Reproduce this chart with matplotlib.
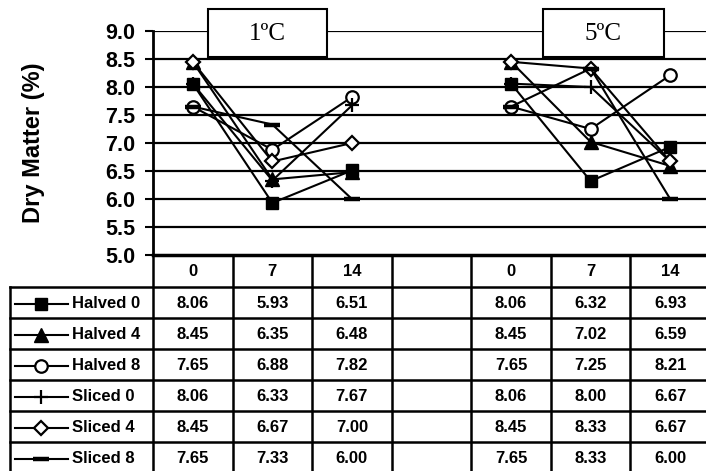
import numpy as np
import matplotlib
matplotlib.use("Agg")
import matplotlib.pyplot as plt
from matplotlib.lines import Line2D
from matplotlib.patches import Rectangle

# ---- data ----
categories = ["0", "7", "14", "", "0", "7", "14"]
temps = ["1ºC", "5ºC"]
series_names = ["Halved 0", "Halved 4", "Halved 8", "Sliced 0", "Sliced 4", "Sliced 8"]
halved0 = [8.06, 5.93, 6.51, None, 8.06, 6.32, 6.93]
halved4 = [8.45, 6.35, 6.48, None, 8.45, 7.02, 6.59]
halved8 = [7.65, 6.88, 7.82, None, 7.65, 7.25, 8.21]
sliced0 = [8.06, 6.33, 7.67, None, 8.06, 8.00, 6.67]
sliced4 = [8.45, 6.67, 7.00, None, 8.45, 8.33, 6.67]
sliced8 = [7.65, 7.33, 6.00, None, 7.65, 8.33, 6.00]
series_values = [halved0, halved4, halved8, sliced0, sliced4, sliced8]
y_ticks = [5.0, 5.5, 6.0, 6.5, 7.0, 7.5, 8.0, 8.5, 9.0]

# ---- styles ----
styles = [
    dict(marker="s", ms=9, mfc="black", mec="black", mew=1.0),
    dict(marker="^", ms=10, mfc="black", mec="black", mew=1.0),
    dict(marker="o", ms=9, mfc="white", mec="black", mew=1.6),
    dict(marker="+", ms=10, mfc="black", mec="black", mew=1.6),
    dict(marker="D", ms=7, mfc="white", mec="black", mew=1.6),
    dict(marker="_", ms=11, mfc="black", mec="black", mew=3.2),
]

W, H = 706, 471
fig = plt.figure(figsize=(W / 100, H / 100), dpi=100)
FONT = "Liberation Sans"

# geometry (pixels)
x_left, x_right = 153, 710
y_top, y_bot = 31, 255
ncol = len(categories)
cw = (x_right - x_left) / ncol
row_h = 31.0
head_bot = 287
leg_left = 10

ax = fig.add_axes([x_left / W, 1 - y_bot / H, (x_right - x_left) / W, (y_bot - y_top) / H])
ax.set_xlim(-0.5, ncol - 0.5)
ax.set_ylim(5.0, 9.0)
ax.set_yticks(y_ticks)
ax.set_yticklabels([f"{v:.1f}" for v in y_ticks], fontfamily=FONT, fontweight="bold", fontsize=15.5)
ax.set_xticks([])
ax.tick_params(axis="y", length=5.5, width=1.5, pad=7, direction="out")
for s in ["top", "right"]:
    ax.spines[s].set_visible(False)
ax.spines["left"].set_linewidth(2)
ax.spines["bottom"].set_linewidth(2.5)
for v in y_ticks[1:]:
    ax.axhline(v, color="black", lw=1.6, zorder=1)
ax.set_ylabel("Dry Matter (%)", fontfamily=FONT, fontweight="bold", fontsize=17, va="center")
ax.yaxis.set_label_coords((33 - x_left) / (x_right - x_left), 0.5)

xs = np.arange(ncol)
for vals, st in zip(series_values, styles):
    y = np.array([np.nan if v is None else v for v in vals], dtype=float)
    ax.plot(xs, y, color="black", lw=1.5, zorder=3, clip_on=False, **st)

# ---- overlay axes in pixel coords for table and boxes ----
ov = fig.add_axes([0, 0, 1, 1])
ov.set_xlim(0, W)
ov.set_ylim(H, 0)
ov.axis("off")
ov.patch.set_alpha(0)

lw_t = 1.8
col_edges = [x_left + i * cw for i in range(ncol + 1)]
n_rows = len(series_names)
row_edges = [head_bot + i * row_h for i in range(n_rows + 1)]
table_bottom = row_edges[-1]

for xe in col_edges:
    ov.add_line(Line2D([xe, xe], [y_bot, table_bottom], color="black", lw=lw_t))
ov.add_line(Line2D([leg_left, leg_left], [head_bot, table_bottom], color="black", lw=lw_t))
for ye in row_edges:
    ov.add_line(Line2D([leg_left, x_right], [ye, ye], color="black", lw=lw_t))

# header
for i, c in enumerate(categories):
    xc = x_left + (i + 0.5) * cw
    ov.text(xc, (y_bot + head_bot) / 2 + 1, c, ha="center", va="center",
            fontfamily=FONT, fontweight="bold", fontsize=12)

# rows
for r, (name, vals, st) in enumerate(zip(series_names, series_values, styles)):
    yc = head_bot + (r + 0.5) * row_h + 1
    ov.add_line(Line2D([15, 68], [yc, yc], color="black", lw=1.5))
    ov.add_line(Line2D([41], [yc], color="black", lw=0, **st))
    ov.text(72, yc, name, ha="left", va="center", fontfamily=FONT, fontweight="bold", fontsize=12)
    for i, v in enumerate(vals):
        if v is None:
            continue
        xc = x_left + (i + 0.5) * cw
        ov.text(xc, yc, f"{v:.2f}", ha="center", va="center",
                fontfamily=FONT, fontweight="bold", fontsize=12)

# temperature boxes
boxes = [(208, 327), (543, 664)]
for (bx0, bx1), t in zip(boxes, temps):
    ov.add_patch(Rectangle((bx0, 9), bx1 - bx0, 48, facecolor="white", edgecolor="black", lw=1.5, zorder=5))
    ov.text((bx0 + bx1) / 2, 34, t, ha="center", va="center", fontfamily="Liberation Serif",
            fontsize=18, zorder=6)

fig.savefig("out.png", dpi=100)
